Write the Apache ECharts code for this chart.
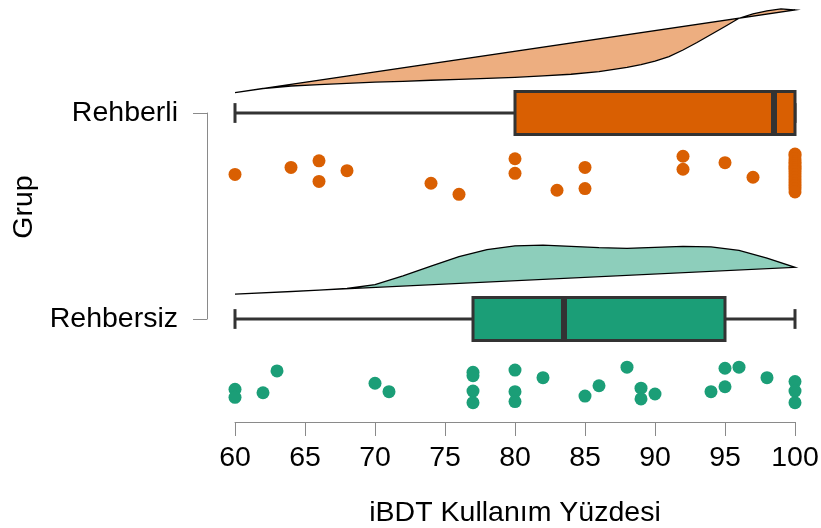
<!DOCTYPE html>
<html><head><meta charset="utf-8">
<script src="https://cdn.jsdelivr.net/npm/echarts@6/dist/echarts.min.js"></script>
<style>html,body{margin:0;padding:0;background:#fff}#c{width:821px;height:528px}</style>
</head><body><div id="c"></div>
<script>
// Groups (y positions: Rehbersiz = 1, Rehberli = 2)
const groupNames = ['Rehbersiz', 'Rehberli'];
const xTicks = [60, 65, 70, 75, 80, 85, 90, 95, 100];

// Raw points (x = value, y = jittered position)
const rehberliX = [60,64,66,66,68,74,76,80,80,83,85,85,92,92,95,97,100,100,100,100,100,100,100,100,100,100,100,100,100,100,100,100];
const rehberliY = [1.702,1.736,1.768,1.668,1.720,1.659,1.605,1.778,1.707,1.625,1.736,1.633,1.790,1.727,1.759,1.688,1.801,1.791,1.777,1.762,1.752,1.743,1.733,1.723,1.714,1.699,1.684,1.670,1.655,1.646,1.631,1.617];
const rehbersizX = [60,60,62,63,70,71,77,77,77,77,80,80,80,82,85,86,88,89,89,90,94,95,95,96,98,100,100,100];
const rehbersizY = [0.659,0.620,0.642,0.748,0.688,0.647,0.741,0.725,0.650,0.594,0.752,0.647,0.599,0.715,0.626,0.676,0.766,0.664,0.612,0.636,0.647,0.761,0.671,0.766,0.715,0.696,0.650,0.594];

// Box statistics [min, q1, median, q3, max]
const boxRehberli = [60, 80, 98.5, 100, 100];
const boxRehbersiz = [60, 77, 83.5, 95, 100];

// Cloud (density outline) points
const cloudRehberliX = [60,62,64,66,68,70,72,74,76,78,80,82,84,86,88,89,90,91,92,93,94,95,96,97,98,99,100];
const cloudRehberliY = [2.099,2.119,2.131,2.138,2.144,2.150,2.154,2.159,2.163,2.168,2.173,2.180,2.188,2.201,2.221,2.235,2.252,2.274,2.306,2.342,2.381,2.420,2.460,2.481,2.496,2.505,2.500];
const cloudRehbersizX = [60,62,64,66,68,70,72,74,76,78,80,82,84,86,88,90,92,94,96,98,100];
const cloudRehbersizY = [1.121,1.127,1.133,1.140,1.148,1.167,1.209,1.257,1.303,1.337,1.355,1.359,1.353,1.346,1.343,1.348,1.353,1.350,1.333,1.296,1.251];

const orange = '#D95F02', orangeLight = '#EDAE80';
const green = '#1B9E77', greenLight = '#8DCEBB';
const FONT = '"Liberation Sans", Arial, sans-serif';
const FS = 28.5;

function cloudSeries(xs, ys, fill) {
  return {
    type: 'custom', xAxisIndex: 0, yAxisIndex: 0, data: [0], z: 1, silent: true,
    renderItem: function (params, api) {
      const pts = xs.map((x, i) => api.coord([x, ys[i]]));
      return { type: 'polygon', shape: { points: pts },
        style: { fill: fill, stroke: '#000', lineWidth: 1.3 } };
    }
  };
}

function boxSeries(pos, st, fill) {
  return {
    type: 'custom', xAxisIndex: 0, yAxisIndex: 0, z: 2, silent: true,
    data: [[pos].concat(st)],
    renderItem: function (params, api) {
      const y = api.value(0);
      const mn = api.value(1), q1 = api.value(2), md = api.value(3), q3 = api.value(4), mx = api.value(5);
      const hh = 0.104, ch = 0.048;
      const c = (x, yy) => api.coord([x, yy]);
      const yc = c(mn, y)[1], yt = c(mn, y + hh)[1], yb = c(mn, y - hh)[1];
      const ct = c(mn, y + ch)[1], cb = c(mn, y - ch)[1];
      const xMn = c(mn, y)[0], xQ1 = c(q1, y)[0], xMd = c(md, y)[0], xQ3 = c(q3, y)[0], xMx = c(mx, y)[0];
      const ls = { stroke: '#333', lineWidth: 3 };
      return { type: 'group', children: [
        { type: 'line', shape: { x1: xMn, y1: yc, x2: xQ1, y2: yc }, style: ls },
        { type: 'line', shape: { x1: xQ3, y1: yc, x2: xMx, y2: yc }, style: ls },
        { type: 'line', shape: { x1: xMn, y1: ct, x2: xMn, y2: cb }, style: ls },
        { type: 'line', shape: { x1: xMx, y1: ct, x2: xMx, y2: cb }, style: ls },
        { type: 'rect', shape: { x: xQ1, y: yt, width: xQ3 - xQ1, height: yb - yt },
          style: { fill: fill, stroke: '#333', lineWidth: 3 } },
        { type: 'line', shape: { x1: xMd, y1: yt, x2: xMd, y2: yb }, style: { stroke: '#333', lineWidth: 6 } }
      ] };
    }
  };
}

const chart = echarts.init(document.getElementById('c'));
chart.setOption({
  animation: false,
  backgroundColor: '#fff',
  textStyle: { fontFamily: FONT },
  grid: [
    { left: 235, right: 26, top: 10, bottom: 106, containLabel: false, outerBoundsMode: 'none' },
    { left: 207, width: 10, top: 113, bottom: 209, containLabel: false, outerBoundsMode: 'none' }
  ],
  xAxis: [
    { type: 'value', gridIndex: 0, min: 60, max: 100, interval: 5,
      axisLine: { show: true, lineStyle: { color: '#8a8a8a', width: 1 } },
      axisTick: { show: true, length: 14, lineStyle: { color: '#8a8a8a' } },
      splitLine: { show: false },
      axisLabel: { color: '#000', fontSize: FS, fontFamily: FONT, margin: 22,
        formatter: v => xTicks.indexOf(v) >= 0 ? String(v) : '' },
      name: 'iBDT Kullanım Yüzdesi', nameLocation: 'middle', nameGap: 77,
      nameTextStyle: { color: '#000', fontSize: FS, fontFamily: FONT } },
    { type: 'value', gridIndex: 1, show: false, min: 0, max: 1 }
  ],
  yAxis: [
    { type: 'value', gridIndex: 0, show: false, min: 0.5, max: 2.5 },
    { type: 'value', gridIndex: 1, min: 1, max: 2, interval: 1, position: 'left',
      axisLine: { show: true, lineStyle: { color: '#8a8a8a', width: 1 } },
      axisTick: { show: true, length: 14, lineStyle: { color: '#8a8a8a' } },
      splitLine: { show: false },
      axisLabel: { color: '#000', fontSize: FS, fontFamily: FONT, margin: 29,
        formatter: v => groupNames[Math.round(v) - 1] || '' },
      name: 'Grup', nameLocation: 'middle', nameGap: 168,
      nameTextStyle: { color: '#000', fontSize: FS, fontFamily: FONT, padding: [0, 0, 0, 18] } }
  ],
  series: [
    cloudSeries(cloudRehberliX, cloudRehberliY, orangeLight),
    cloudSeries(cloudRehbersizX, cloudRehbersizY, greenLight),
    boxSeries(2, boxRehberli, orange),
    boxSeries(1, boxRehbersiz, green),
    { type: 'scatter', xAxisIndex: 0, yAxisIndex: 0, z: 3, clip: false, symbolSize: 13,
      itemStyle: { color: orange, opacity: 1 },
      data: rehberliX.map((x, i) => [x, rehberliY[i]]) },
    { type: 'scatter', xAxisIndex: 0, yAxisIndex: 0, z: 3, clip: false, symbolSize: 13,
      itemStyle: { color: green, opacity: 1 },
      data: rehbersizX.map((x, i) => [x, rehbersizY[i]]) }
  ]
});
</script></body></html>
